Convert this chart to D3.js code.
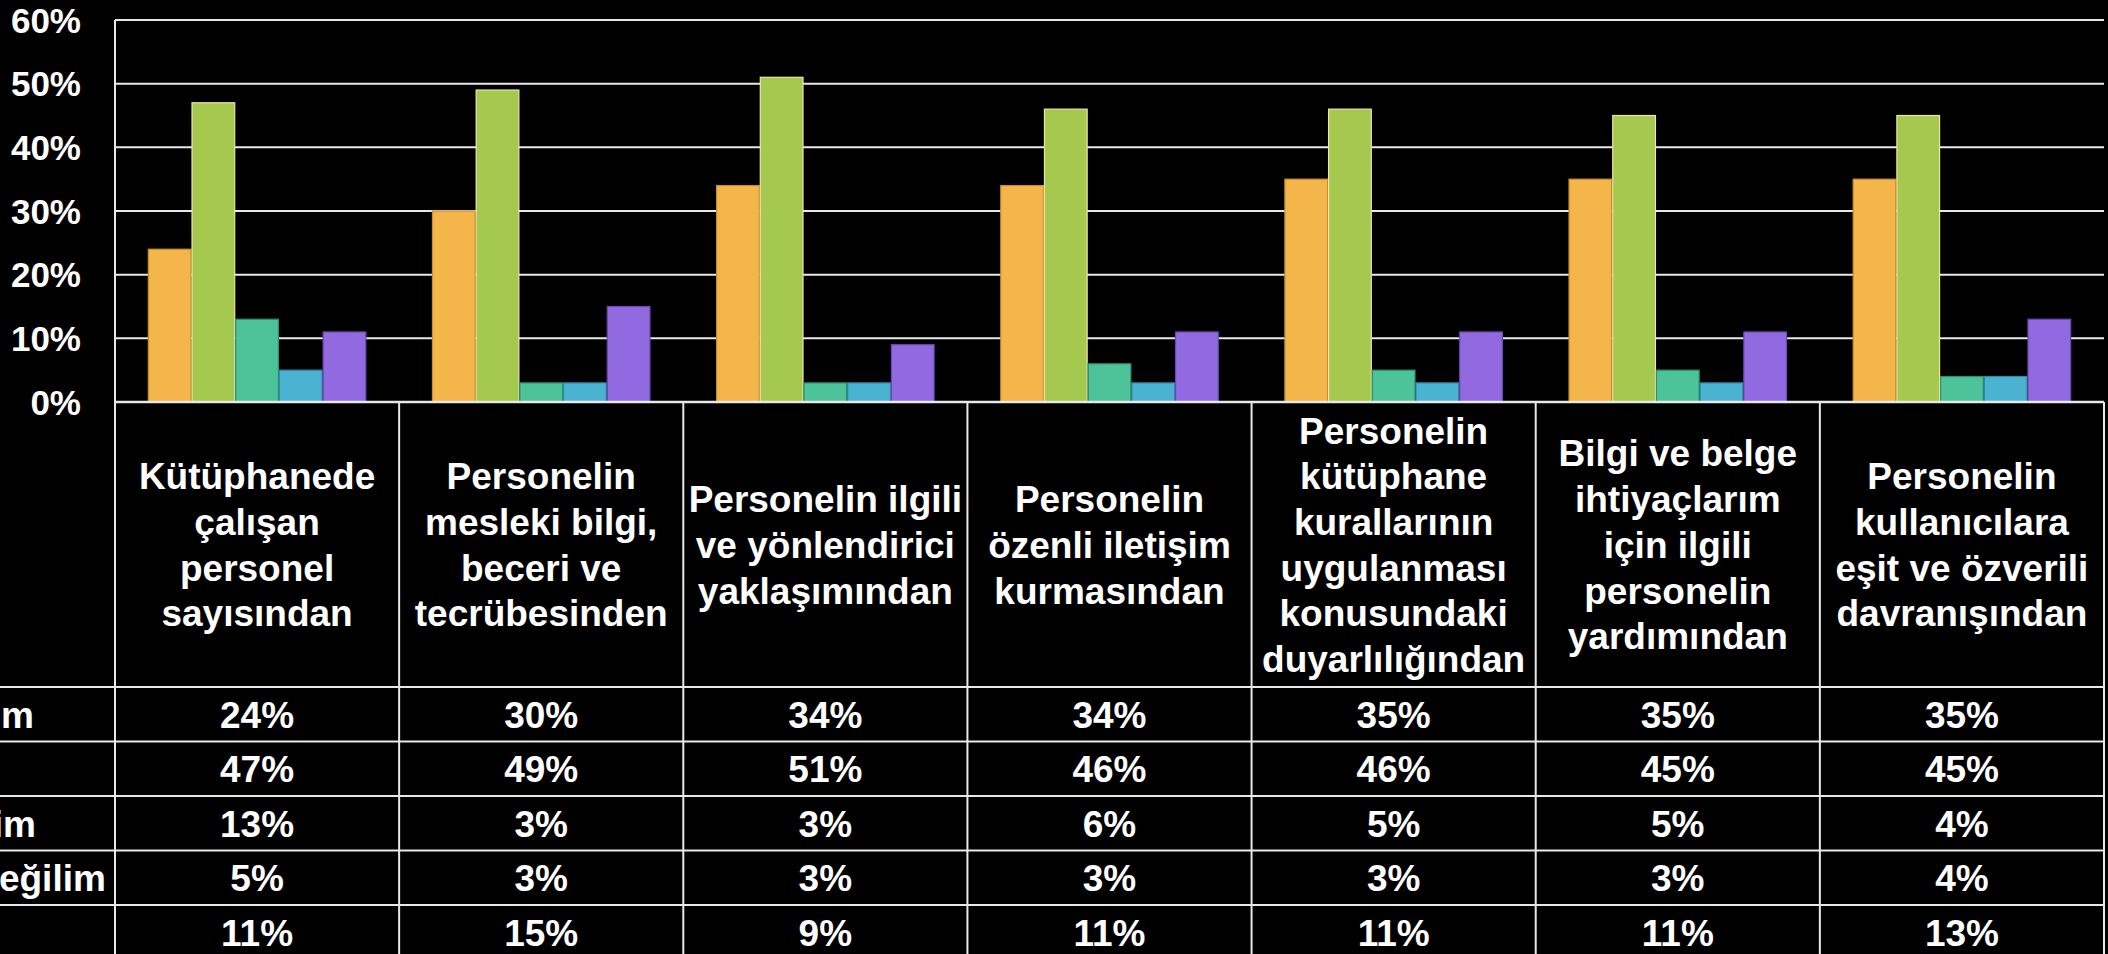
<!DOCTYPE html>
<html>
<head>
<meta charset="utf-8">
<script src="https://cdn.jsdelivr.net/npm/d3@7"></script>
<style>
  html, body { margin: 0; padding: 0; background: #000; overflow: hidden; }
  svg { display: block; }
  text { font-family: "Liberation Sans", Arial, sans-serif; font-weight: bold; fill: #fff; }
</style>
</head>
<body>
<svg id="chart" width="2108" height="954"></svg>
<script>
// ---- data ----
const categories = [
  "Kütüphanede\nçalışan\npersonel\nsayısından",
  "Personelin\nmesleki bilgi,\nbeceri ve\ntecrübesinden",
  "Personelin ilgili\nve yönlendirici\nyaklaşımından",
  "Personelin\nözenli iletişim\nkurmasından",
  "Personelin\nkütüphane\nkurallarının\nuygulanması\nkonusundaki\nduyarlılığından",
  "Bilgi ve belge\nihtiyaçlarım\niçin ilgili\npersonelin\nyardımından",
  "Personelin\nkullanıcılara\neşit ve özverili\ndavranışından"
];
const seriesNames = ["Çok memnunum", "Memnunum", "Memnun değilim", "Hiç memnun değilim", "Fikrim yok"];
const cokMemnunum      = [24, 30, 34, 34, 35, 35, 35];
const memnunum         = [47, 49, 51, 46, 46, 45, 45];
const memnunDegilim    = [13, 3, 3, 6, 5, 5, 4];
const hicMemnunDegilim = [5, 3, 3, 3, 3, 3, 4];
const fikrimYok        = [11, 15, 9, 11, 11, 11, 13];
const yTicks = [0, 10, 20, 30, 40, 50, 60];

const seriesValues = [cokMemnunum, memnunum, memnunDegilim, hicMemnunDegilim, fikrimYok];
const seriesFill   = ["#F4B54A", "#A5C84F", "#4CC398", "#4BB3D2", "#916AE1"];
const seriesStroke = ["#C98F2C", "#F3E2A6", "#2F8F6E", "#2F8AA5", "#6A48B0"];

// ---- layout ----
const svg = d3.select("#chart");
const plotLeft = 115, plotRight = 2104, plotTop = 20, baseY = 402;
const headerBottom = 687, rowH = 54.5;
const lineColor = "#e8e8e8";

const x0 = d3.scaleBand().domain(categories).range([plotLeft, plotRight])
  .paddingInner(0.231).paddingOuter(0.1155);
const x1 = d3.scaleBand().domain(seriesNames).range([0, x0.bandwidth()]).padding(0);
const y = d3.scaleLinear().domain([0, 60]).range([baseY, plotTop]);

// gridlines
svg.append("g").selectAll("line").data(yTicks.filter(d => d > 0)).join("line")
  .attr("x1", plotLeft).attr("x2", plotRight)
  .attr("y1", d => y(d)).attr("y2", d => y(d))
  .attr("stroke", lineColor).attr("stroke-width", 2);

// left axis line
svg.append("line").attr("x1", plotLeft).attr("x2", plotLeft)
  .attr("y1", y(60)).attr("y2", baseY)
  .attr("stroke", lineColor).attr("stroke-width", 2);

// y tick labels
svg.append("g").selectAll("text").data(yTicks).join("text")
  .attr("x", 81).attr("y", d => y(d) + 12.5)
  .attr("text-anchor", "end").attr("font-size", 35)
  .text(d => d + "%");

// bars
const gBars = svg.append("g");
seriesNames.forEach((s, si) => {
  gBars.append("g").selectAll("rect").data(categories).join("rect")
    .attr("x", (c) => x0(c) + x1(s) + 0.5)
    .attr("width", x1.bandwidth() - 1)
    .attr("y", (c, i) => y(seriesValues[si][i]))
    .attr("height", (c, i) => baseY - y(seriesValues[si][i]))
    .attr("fill", seriesFill[si])
    .attr("stroke", seriesStroke[si]).attr("stroke-width", 1.2);
});

// ---- data table ----
const step = x0.step();
const colLeft = c => x0(c) - (step - x0.bandwidth()) / 2;
const tbl = svg.append("g");

// horizontal lines
const rowLines = [headerBottom];
for (let i = 1; i <= 5; i++) rowLines.push(headerBottom + i * rowH);
tbl.append("line").attr("x1", plotLeft).attr("x2", plotRight)
  .attr("y1", baseY).attr("y2", baseY).attr("stroke", lineColor).attr("stroke-width", 2.5);
tbl.selectAll("line.h").data(rowLines).join("line").attr("class", "h")
  .attr("x1", -400).attr("x2", plotRight)
  .attr("y1", d => d).attr("y2", d => d)
  .attr("stroke", lineColor).attr("stroke-width", 2);

// vertical lines
const vx = categories.map(colLeft).concat([plotRight]);
tbl.selectAll("line.v").data(vx).join("line").attr("class", "v")
  .attr("x1", d => d).attr("x2", d => d)
  .attr("y1", baseY).attr("y2", 970)
  .attr("stroke", lineColor).attr("stroke-width", 2);

// header texts
const headerCenter = (baseY + headerBottom) / 2;
const lh = 45.7;
categories.forEach(c => {
  const lines = c.split("\n");
  const cx = colLeft(c) + step / 2;
  const t = tbl.append("text").attr("text-anchor", "middle").attr("font-size", 37);
  lines.forEach((ln, i) => {
    t.append("tspan").attr("x", cx)
      .attr("y", headerCenter + (i - (lines.length - 1) / 2) * lh + 13.3)
      .text(ln);
  });
});

// row labels (left column, mostly outside the view)
seriesNames.forEach((s, si) => {
  const cy = headerBottom + (si + 0.5) * rowH;
  tbl.append("rect").attr("x", -300).attr("y", cy - 8).attr("width", 16).attr("height", 16)
    .attr("fill", seriesFill[si]);
  tbl.append("text").attr("x", -256).attr("y", cy + 13.3)
    .attr("text-anchor", "start").attr("font-size", 37).text(s);
});

// values
seriesNames.forEach((s, si) => {
  const cy = headerBottom + (si + 0.5) * rowH;
  tbl.append("g").selectAll("text").data(categories).join("text")
    .attr("x", c => colLeft(c) + step / 2)
    .attr("y", cy + 13.3)
    .attr("text-anchor", "middle").attr("font-size", 37)
    .text((c, i) => seriesValues[si][i] + "%");
});
</script>
</body>
</html>
